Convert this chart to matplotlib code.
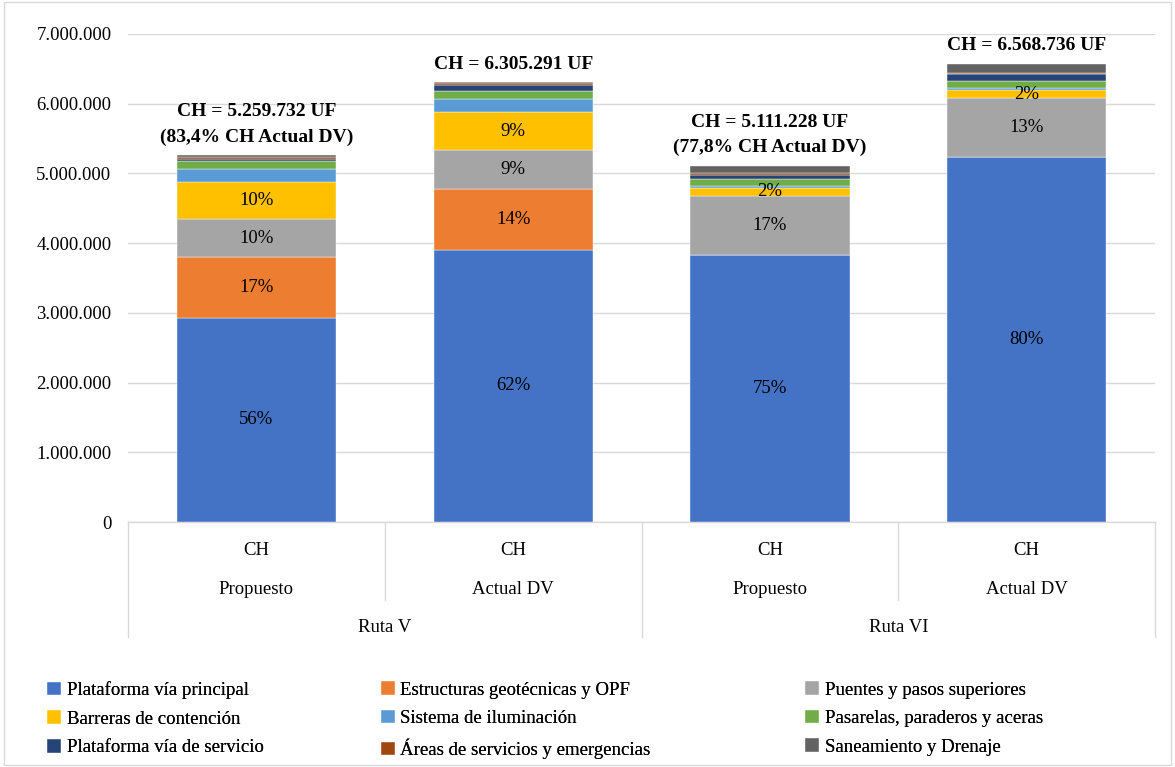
import numpy as np
import matplotlib.pyplot as plt
from matplotlib.ticker import FuncFormatter
from matplotlib.patches import Rectangle

plt.rcParams['font.family'] = ['Liberation Serif', 'DejaVu Serif']

# escenarios (x)
escenarios = ['Propuesto', 'Actual DV', 'Propuesto', 'Actual DV']
rutas = ['Ruta V', 'Ruta VI']

# partidas de costo, en UF
partidas = [
    'Plataforma vía principal',
    'Estructuras geotécnicas y OPF',
    'Puentes y pasos superiores',
    'Barreras de contención',
    'Sistema de iluminación',
    'Pasarelas, paraderos y aceras',
    'Plataforma vía de servicio',
    'Áreas de servicios y emergencias',
    'Saneamiento y Drenaje',
]
plataforma_principal = [2930000, 3905000, 3830000, 5230000]
estructuras_geo = [870000, 875000, 0, 0]
puentes = [540000, 550000, 850000, 850000]
barreras = [540000, 550000, 110000, 110000]
iluminacion = [190000, 190000, 30000, 30000]
pasarelas = [110000, 110000, 100000, 110000]
plataforma_servicio = [30000, 90000, 60000, 90000]
areas_servicio = [20000, 20000, 30000, 25000]
saneamiento = [29732, 15291, 101228, 123736]

colores = ['#4472C4', '#ED7D31', '#A5A5A5', '#FFC000', '#5B9BD5',
           '#70AD47', '#264478', '#9E480E', '#636363']

series = np.array([plataforma_principal, estructuras_geo, puentes, barreras,
                   iluminacion, pasarelas, plataforma_servicio,
                   areas_servicio, saneamiento], dtype=float)
totales = series.sum(axis=0)


def miles(v, pos=None):
    return f'{int(round(v)):,}'.replace(',', '.')


fig = plt.figure(figsize=(11.75, 7.67), dpi=100)
ax = fig.add_axes([0.109, 0.3194, 0.874, 0.6363])

x = np.arange(len(escenarios))
ancho = 0.62
base = np.zeros(len(escenarios))
barras = []
for i, (nombre, vals) in enumerate(zip(partidas, series)):
    b = ax.bar(x, vals, ancho, bottom=base, color=colores[i], label=nombre,
               edgecolor='white', linewidth=0.3, zorder=3)
    barras.append(b)
    # porcentajes solo para las 4 primeras partidas
    if i < 4:
        for xi, v, b0, t in zip(x, vals, base, totales):
            if v > 0:
                ax.text(xi, b0 + v / 2, f'{v / t * 100:.0f}%', ha='center',
                        va='center', fontsize=13.5, color='black', zorder=4)
    base = base + vals

# totales sobre cada barra
etiquetas = [
    f'CH = {miles(totales[0])} UF\n({totales[0] / totales[1] * 100:.1f}% CH Actual DV)',
    f'CH = {miles(totales[1])} UF',
    f'CH = {miles(totales[2])} UF\n({totales[2] / totales[3] * 100:.1f}% CH Actual DV)',
    f'CH = {miles(totales[3])} UF',
]
for xi, t, txt in zip(x, totales, etiquetas):
    lineas = txt.split('\n')
    if len(lineas) > 1:
        lineas[1] = lineas[1].replace('.', ',')
    ax.annotate('\n'.join(lineas), (xi, t), xytext=(0, 7), textcoords='offset points',
                ha='center', va='bottom', fontsize=14, fontweight='bold',
                linespacing=1.6)

ax.set_xlim(-0.5, 3.5)
ax.set_ylim(0, 7000000)
ax.set_yticks(np.arange(0, 7000001, 1000000))
ax.yaxis.set_major_formatter(FuncFormatter(miles))
ax.tick_params(axis='y', length=0, labelsize=13.5, pad=12)
ax.set_xticks([])
ax.grid(axis='y', color='#D9D9D9', linewidth=1, zorder=0)
for s in ['top', 'right', 'left']:
    ax.spines[s].set_visible(False)
ax.spines['bottom'].set_color('#D9D9D9')
ax.spines['bottom'].set_linewidth(1)

# eje de categorias en varios niveles
trans = ax.get_xaxis_transform()
for xs, y_fin in zip([-0.5, 0.5, 1.5, 2.5, 3.5], [-0.236, -0.160, -0.236, -0.160, -0.236]):
    ax.plot([xs, xs], [0, y_fin], transform=trans, color='#D9D9D9',
            linewidth=1, clip_on=False)
for xi, esc in zip(x, escenarios):
    ax.text(xi, -0.058, 'CH', transform=trans, ha='center', va='center', fontsize=13.5)
    ax.text(xi, -0.138, esc, transform=trans, ha='center', va='center', fontsize=13.5)
for k, ruta in enumerate(rutas):
    ax.text(0.5 + 2 * k, -0.217, ruta, transform=trans, ha='center', va='center', fontsize=13.5)

# leyenda en tres columnas
columnas_x = [0.040, 0.324, 0.685]
for c, cx in enumerate(columnas_x):
    idx = [c, c + 3, c + 6]
    leg = fig.legend([barras[i] for i in idx], [partidas[i] for i in idx],
                     loc='upper left', bbox_to_anchor=(cx, 0.112), frameon=False,
                     fontsize=13.5, handlelength=0.75, handleheight=0.75,
                     handletextpad=0.3, labelspacing=0.6, borderpad=0, borderaxespad=0)
    fig.add_artist(leg)

fig.patches.append(Rectangle((0.003, 0.002), 0.994, 0.996, transform=fig.transFigure,
                             fill=False, edgecolor='#D9D9D9', linewidth=1))

fig.savefig('out.png', dpi=100)
